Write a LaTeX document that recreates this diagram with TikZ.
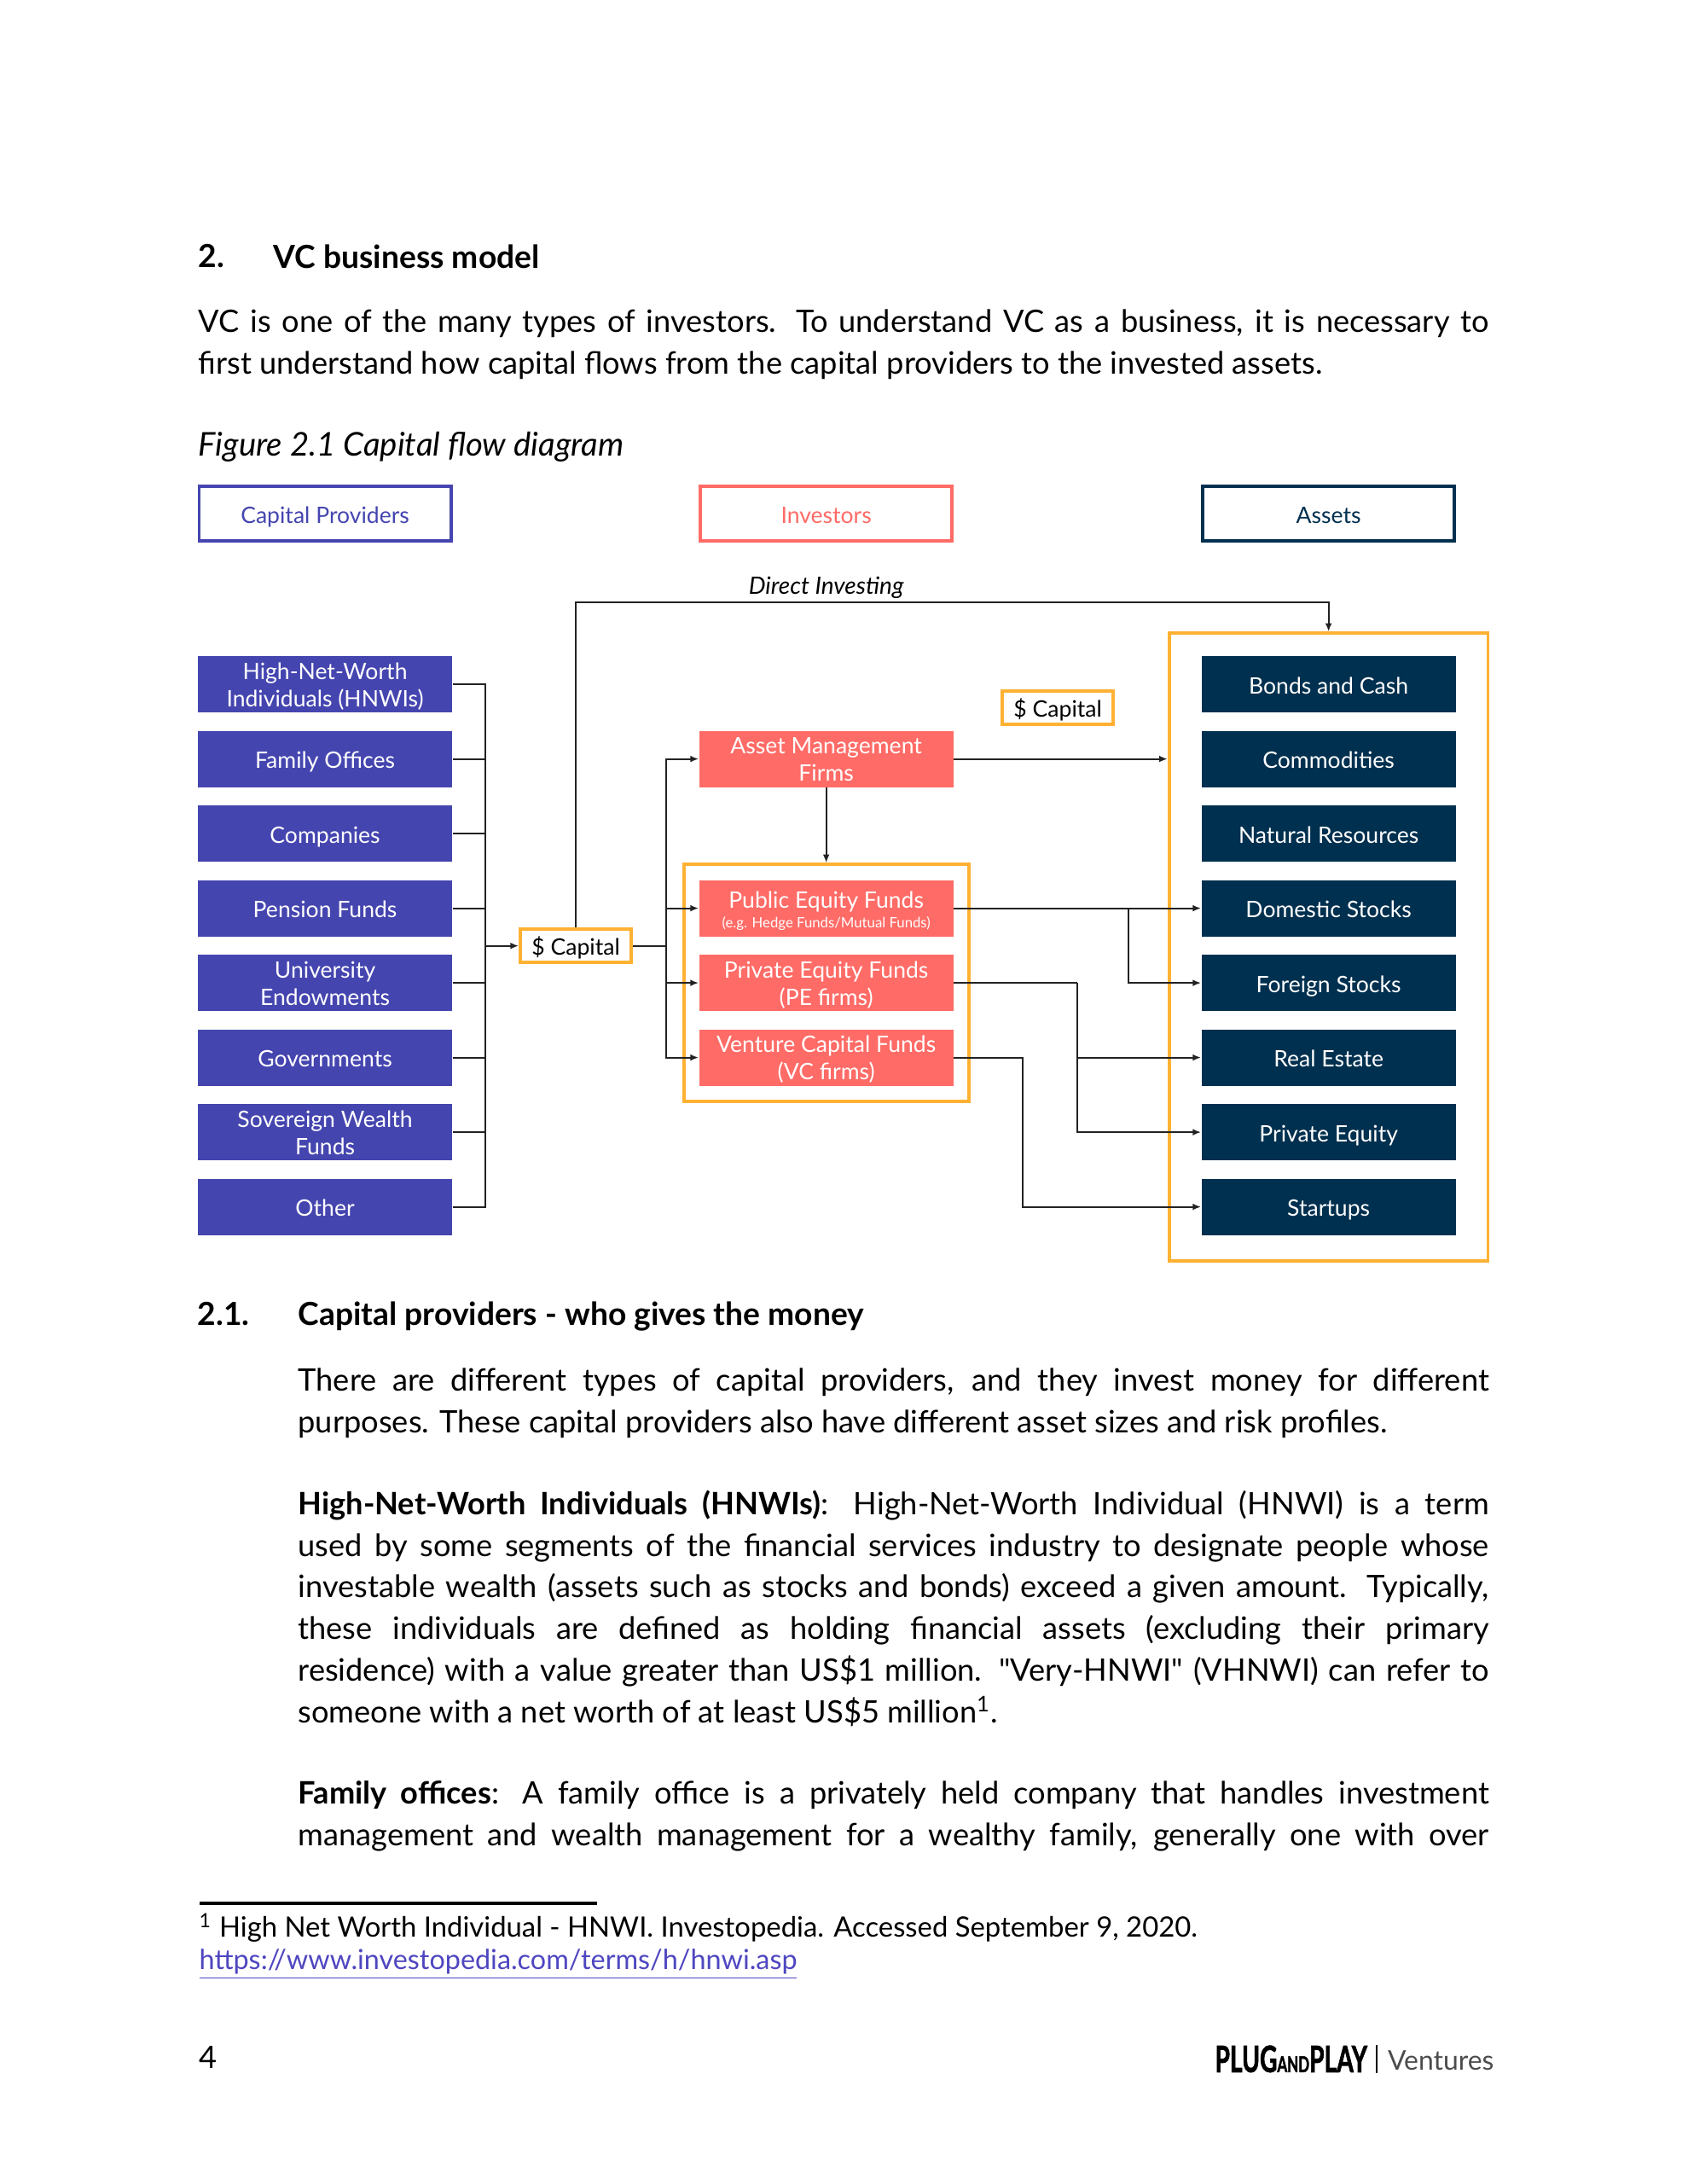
\documentclass[tikz,border=0pt]{standalone}
\usepackage{fontspec}
\setmainfont{Lato}
\newfontfamily\rawfont{Lato}
\usetikzlibrary{arrows.meta}
\definecolor{providerBlue}{HTML}{4545B0}
\definecolor{investorRed}{HTML}{FF6B66}
\definecolor{assetNavy}{HTML}{00304F}
\definecolor{frameOrange}{HTML}{FFB133}
\definecolor{lineGray}{HTML}{222222}
\definecolor{linkBlue}{HTML}{4F46C0}
\newcommand{\boxfont}{\fontsize{8.25}{9.8}\selectfont}
\newcommand{\pagefont}{\fontsize{11.25}{15.13}\selectfont}
\newcommand{\headfont}{\fontsize{11.55}{15.13}\selectfont}
\newcommand{\topstrut}{\rule{0pt}{9pt}}
\newcommand{\lowstrut}{\rule[-2.2pt]{0pt}{2.2pt}}
\newcommand{\lineone}{\rule{0pt}{8.5pt}}
\tikzstyle{boxStrut} = [execute at begin node=\topstrut, execute at end node=\lowstrut]
\tikzstyle{fillBox} = [rectangle, minimum width=3.25cm, minimum height=.72cm, inner sep=0pt, text centered, align=center, text=white, font=\boxfont, boxStrut]
\tikzstyle{providerBox} = [fillBox, fill=providerBlue]
\tikzstyle{investorBox} = [fillBox, fill=investorRed]
\tikzstyle{assetBox} = [fillBox, fill=assetNavy]
\tikzstyle{headerBox} = [rectangle, minimum width=3.22cm, minimum height=.7cm, inner sep=0pt, line width=1.2pt, font=\boxfont, boxStrut]
\tikzstyle{frameBox} = [rectangle, draw=frameOrange, line width=1.2pt, inner sep=0pt]
\tikzstyle{capitalBox} = [frameBox, fill=white, minimum width=1.42cm, minimum height=.43cm, font=\boxfont, boxStrut]
\tikzstyle{pageText} = [anchor=north west, inner sep=0pt, font=\pagefont]
\tikzstyle{headText} = [pageText, font=\headfont]
\tikzstyle{parText} = [pageText, align=justify]
\tikzstyle{footNote} = [pageText, font=\fontsize{10.2}{12}\selectfont]
\tikzstyle{line} = [lineGray, line width=.65pt]
\tikzstyle{arrow} = [line,-{Latex[length=3pt,width=2.4pt]}]

\begin{document}
\begin{tikzpicture}[node distance=.955cm]
\useasboundingbox (0,0) rectangle (21.59,-27.94);

\node (secNum) [headText] at (2.532,-3.122) {\textbf{2.}};
\node (secTitle) [headText] at (3.493,-3.122) {\textbf{VC business model}};
\node (introText) [parText, text width=16.514cm] at (2.532,-3.951) {VC is one of the many types of investors. To understand VC as a business, it is necessary to\linebreak first understand how capital flows from the capital providers to the invested assets.};
\node (figTitle) [pageText, font=\fontsize{11.9}{15}\selectfont] at (2.532,-5.516) {\textit{Figure 2.1 Capital flow diagram}};

\node (hnwi) [providerBox] at (4.159,-8.754) {\lineone High-Net-Worth\\Individuals (HNWIs)};
\node (family) [providerBox, below of=hnwi] {Family Offices};
\node (companies) [providerBox, below of=family] {Companies};
\node (pension) [providerBox, below of=companies] {Pension Funds};
\node (university) [providerBox, below of=pension] {\lineone University\\Endowments};
\node (governments) [providerBox, below of=university] {Governments};
\node (sovereign) [providerBox, below of=governments] {\lineone Sovereign Wealth\\Funds};
\node (other) [providerBox, below of=sovereign] {Other};

\node (providersHead) [headerBox, draw=providerBlue, text=providerBlue, above of=hnwi, yshift=1.228cm] {Capital Providers};

\node (amFirms) [investorBox, right of=family, xshift=5.458cm] {\lineone Asset Management\\Firms};
\node (publicFunds) [investorBox, right of=pension, xshift=5.458cm] {\rule{0pt}{9.5pt}Public Equity Funds\\[-2.6pt]{\fontsize{5.2}{6}\selectfont (e.g. Hedge Funds/Mutual Funds)}};
\node (peFunds) [investorBox, below of=publicFunds] {\lineone Private Equity Funds\\(PE firms)};
\node (vcFunds) [investorBox, below of=peFunds] {\lineone Venture Capital Funds\\(VC firms)};
\node (investorsHead) [headerBox, draw=investorRed, text=investorRed, right of=providersHead, xshift=5.458cm] {Investors};
\node (directLabel) [below of=investorsHead, yshift=.012cm, font=\fontsize{8.7}{10}\selectfont\itshape] {Direct Investing};

\node (bonds) [assetBox, right of=hnwi, xshift=11.886cm] {Bonds and Cash};
\node (commodities) [assetBox, below of=bonds] {Commodities};
\node (resources) [assetBox, below of=commodities] {Natural Resources};
\node (domestic) [assetBox, below of=resources] {Domestic Stocks};
\node (foreign) [assetBox, below of=domestic] {Foreign Stocks};
\node (realEstate) [assetBox, below of=foreign] {Real Estate};
\node (privateEquity) [assetBox, below of=realEstate] {Private Equity};
\node (startups) [assetBox, below of=privateEquity] {Startups};
\node (assetsHead) [headerBox, draw=assetNavy, text=assetNavy, right of=providersHead, xshift=11.886cm] {Assets};

\node (investorFrame) [frameBox, minimum width=3.645cm, minimum height=3.03cm] at (peFunds) {};
\node (assetFrame) [frameBox, minimum width=4.08cm, minimum height=8.03cm, yshift=.458cm] at (foreign) {};
\node (capital) [capitalBox] at (7.368,-12.1) {\$ Capital};
\node (capitalTop) [capitalBox] at (13.535,-9.054) {\$ Capital};

\node (providerBus) [coordinate, left of=capital, xshift=-.202cm] {};
\node (fundBus) [coordinate, right of=capital, xshift=.202cm] {};
\node (directAnchor) [coordinate, above of=capital, yshift=3.438cm] {};
\node (stockSplit) [coordinate, right of=publicFunds, xshift=2.914cm] {};
\node (peTurn) [coordinate, right of=peFunds, xshift=2.259cm] {};
\node (vcTurn) [coordinate, right of=vcFunds, xshift=1.561cm] {};

\draw [line] (hnwi) -| (providerBus);
\draw [line] (family) -- (family -| providerBus);
\draw [line] (companies) -- (companies -| providerBus);
\draw [line] (pension) -- (pension -| providerBus);
\draw [line] (university) -- (university -| providerBus);
\draw [line] (governments) -- (governments -| providerBus);
\draw [line] (sovereign) -- (sovereign -| providerBus);
\draw [line] (other) -| (providerBus);
\draw [arrow] (providerBus) -- (capital);
\draw [line] (capital) -- (fundBus);
\draw [arrow] (fundBus) |- (amFirms);
\draw [arrow] (fundBus) |- (publicFunds);
\draw [arrow] (fundBus) |- (peFunds);
\draw [arrow] (fundBus) |- (vcFunds);
\draw [arrow] (capital) -- (directAnchor) -| (assetFrame.north);
\draw [arrow] (amFirms) -- (amFirms -| assetFrame.west);
\draw [arrow] (amFirms) -- (investorFrame.north);
\draw [arrow] (publicFunds) -- (domestic);
\draw [arrow] (stockSplit) |- (foreign);
\draw [line] (peFunds) -- (peTurn);
\draw [arrow] (peTurn) |- (privateEquity);
\draw [arrow] (peTurn |- realEstate) -- (realEstate);
\draw [arrow] (vcFunds) -- (vcTurn) |- (startups);

\node (subNum) [headText] at (2.521,-16.65) {\textbf{2.1.}};
\node (subTitle) [headText] at (3.809,-16.65) {\textbf{Capital providers - who gives the money}};
\node (typesText) [parText, text width=15.237cm] at (3.809,-17.497) {There are different types of capital providers, and they invest money for different\linebreak purposes. These capital providers also have different asset sizes and risk profiles.};
\node (hnwiText) [parText, text width=15.237cm] at (3.809,-19.06) {\textbf{High-Net-Worth Individuals (HNWIs)}: High-Net-Worth Individual (HNWI) is a term\linebreak used by some segments of the financial services industry to designate people whose\linebreak investable wealth (assets such as stocks and bonds) exceed a given amount. Typically,\linebreak these individuals are defined as holding financial assets (excluding their primary\linebreak residence) with a value greater than US\$1 million. {\rawfont"}Very-HNWI{\rawfont"} (VHNWI) can refer to\linebreak someone with a net worth of at least US\$5 million\textsuperscript{1}.};
\node (familyText) [parText, text width=15.237cm] at (3.809,-22.775) {\parfillskip=0pt \textbf{Family offices}: A family office is a privately held company that handles investment\linebreak management and wealth management for a wealthy family, generally one with over\par};

\node (footRule) [anchor=west, fill=black, minimum width=5.09cm, minimum height=.04cm, inner sep=0pt] at (2.543,-24.351) {};
\node (footText) [footNote] at (2.543,-24.47) {\textsuperscript{1} High Net Worth Individual - HNWI. Investopedia. Accessed September 9, 2020.};
\node (footLink) [footNote, font=\fontsize{10.05}{12}\selectfont, text=linkBlue] at (2.543,-24.93) {\underline{https://www.investopedia.com/terms/h/hnwi.asp}};
\node (pageNum) [pageText] at (2.543,-26.17) {4};
\node (logoPlug) [anchor=west, inner sep=0pt] at (15.54,-26.34) {\resizebox{1.95cm}{.34cm}{\addfontfeatures{FakeBold=2}\textbf{PLUG{\fontsize{6}{6}\selectfont AND}PLAY}}};
\node (logoBar) [anchor=west, fill=black, minimum width=.02cm, minimum height=.36cm, inner sep=0pt] at (17.6,-26.34) {};
\node (logoVentures) [anchor=west, inner sep=0pt, font=\fontsize{9.9}{12}\selectfont, text=black!70] at (17.75,-26.36) {Ventures};
\end{tikzpicture}
\end{document}
